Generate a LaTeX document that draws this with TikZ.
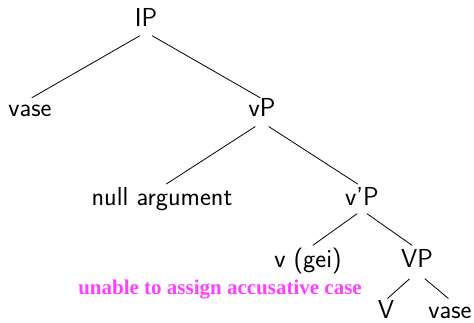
\documentclass[tikz,border=0pt]{standalone}
\usepackage{fontspec}
\newfontfamily\redfont{Liberation Serif}
\definecolor{casepink}{RGB}{255,64,255}
\begin{document}
\begin{tikzpicture}[x=1pt,y=1pt,
  lab/.style={anchor=base,inner sep=0pt,text height=18pt,text depth=5pt,font=\sffamily\fontsize{26}{30}\selectfont},
  br/.style={draw=black,line width=0.8pt},
  note/.style={anchor=base,inner sep=0pt,text=casepink,font=\redfont\bfseries\fontsize{21}{24}\selectfont}]
\useasboundingbox (0,0) rectangle (474,322);
\node[lab] (IP) at (146,{322-27}) {IP};
\node[lab] (vase1) at (30,{322-117}) {vase};
\node[lab] (vP) at (262,{322-117}) {vP};
\node[lab] (null) at (162,{322-205}) {null argument};
\node[lab] (vbarP) at (362,{322-205}) {v'P};
\node[lab] (vgei) at (308,{322-267}) {v (gei)};
\node[lab] (VP) at (417,{322-267}) {VP};
\node[note] (case) at (220,{322-294}) {unable to assign accusative case};
\node[lab] (V) at (386,{322-318}) {V};
\node[lab] (vase2) at (450,{322-318}) {vase};
\draw[br,shorten <=7pt,shorten >=2pt] (IP.south) -- (vase1.north);
\draw[br,shorten <=7pt,shorten >=2pt] (IP.south) -- (vP.north);
\draw[br,shorten <=8pt,shorten >=5pt] (vP.south) -- (null.north);
\draw[br,shorten <=8pt,shorten >=5pt] (vP.south) -- (vbarP.north);
\draw[br,shorten <=6pt,shorten >=6pt] (vbarP.south) -- (vgei.north);
\draw[br,shorten <=6pt,shorten >=6pt] (vbarP.south) -- (VP.north);
\draw[br,shorten <=10pt,shorten >=2pt] (VP.south) -- (V.north);
\draw[br,shorten <=10pt,shorten >=2pt] (VP.south) -- (vase2.north);
\end{tikzpicture}
\end{document}
